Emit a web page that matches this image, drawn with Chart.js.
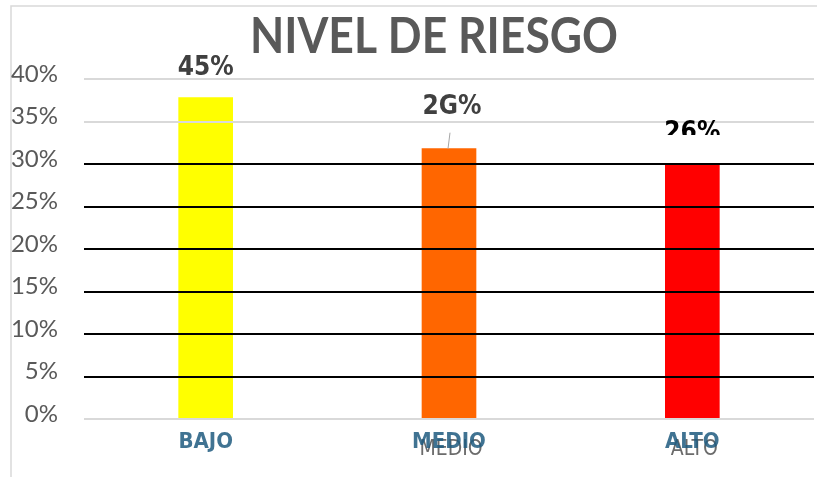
<!DOCTYPE html>
<html>
<head>
<meta charset="utf-8">
<script src="https://cdn.jsdelivr.net/npm/chart.js@4"></script>
<style>
  html, body { margin: 0; padding: 0; background: #fff; }
  #wrap { width: 817px; height: 477px; }
</style>
</head>
<body>
<div id="wrap"><canvas id="chart"></canvas></div>
<script>
// data
const categories = ['BAJO', 'MEDIO', 'ALTO'];
const barValues = [37.8, 31.8, 30];
const barLabels = ['45%', '2G%', '26%'];
const barColors = ['#FFFF00', '#FF6600', '#FF0000'];
const yTicks = [0, 5, 10, 15, 20, 25, 30, 35, 40];
const ghostLabels = ['', 'MEDIO', 'ALTO'];   // grey duplicates under the axis labels

const BOLD_FONT = '"DejaVu Sans Condensed", "DejaVu Sans", sans-serif';

// frame + title + ghost labels, drawn behind everything else
const backdrop = {
  id: 'backdrop',
  beforeDraw(chart) {
    const ctx = chart.ctx;
    ctx.save();
    ctx.strokeStyle = '#d9d9d9';
    ctx.lineWidth = 1.5;
    ctx.beginPath();
    ctx.moveTo(11, 477);
    ctx.lineTo(11, 6);
    ctx.lineTo(817, 6);
    ctx.stroke();

    ctx.fillStyle = '#595959';
    ctx.font = 'bold 50px Lato';
    ctx.textAlign = 'center';
    ctx.textBaseline = 'alphabetic';
    ctx.fillText('NIVEL DE RIESGO', 434, 53, 368);

    const x = chart.scales.x;
    ctx.fillStyle = '#6b6b6b';
    ctx.font = '21px ' + BOLD_FONT;
    ghostLabels.forEach((t, i) => {
      if (t) ctx.fillText(t, x.getPixelForValue(i) + 2, 455);
    });
    ctx.restore();
  }
};

// value labels above bars (one clipped, one with a leader line)
const valueLabels = {
  id: 'valueLabels',
  afterDraw(chart) {
    const ctx = chart.ctx;
    const meta = chart.getDatasetMeta(0);
    ctx.save();
    ctx.textAlign = 'center';
    ctx.textBaseline = 'middle';
    ctx.font = 'bold 26px ' + BOLD_FONT;
    meta.data.forEach((bar, i) => {
      if (i === 0) {
        ctx.fillStyle = '#404040';
        ctx.fillText(barLabels[i], bar.x, bar.y - 29);
      } else if (i === 1) {
        ctx.fillStyle = '#404040';
        ctx.fillText(barLabels[i], bar.x + 3, bar.y - 41);
        ctx.strokeStyle = '#a6a6a6';
        ctx.lineWidth = 1;
        ctx.beginPath();
        ctx.moveTo(bar.x + 1, bar.y - 16);
        ctx.lineTo(bar.x - 1, bar.y);
        ctx.stroke();
      } else {
        ctx.save();
        ctx.beginPath();
        ctx.rect(bar.x - 60, bar.y - 60, 120, 31);
        ctx.clip();
        ctx.fillStyle = '#000000';
        ctx.fillText(barLabels[i], bar.x, bar.y - 31);
        ctx.restore();
      }
    });
    ctx.restore();
  }
};

function drawChart() {
  new Chart(document.getElementById('chart'), {
    type: 'bar',
    data: {
      labels: categories,
      datasets: [{
        data: barValues,
        backgroundColor: barColors,
        barThickness: 54,
        base: -0.3
      }]
    },
    options: {
      responsive: true,
      maintainAspectRatio: false,
      animation: false,
      layout: { padding: { top: 79, right: 3, left: 0, bottom: 0 } },
      plugins: {
        legend: { display: false },
        tooltip: { enabled: false }
      },
      scales: {
        x: {
          grid: { display: false },
          border: { display: false },
          ticks: {
            color: 'rgba(31, 90, 127, 0.85)',
            font: { family: BOLD_FONT, size: 22, weight: 'bold' },
            padding: 2
          },
          afterFit(s) { s.height = 58; }
        },
        y: {
          min: 0,
          max: 40,
          afterBuildTicks(s) { s.ticks = yTicks.map(v => ({ value: v })); },
          border: { display: false },
          grid: {
            z: 1,
            drawTicks: false,
            lineWidth: 2,
            color: ctx => {
              const v = ctx.tick ? ctx.tick.value : 0;
              return (v === 0 || v >= 35) ? '#d9d9d9' : '#000000';
            }
          },
          ticks: {
            color: '#595959',
            font: { family: 'Lato', size: 24 },
            padding: 26,
            labelOffset: -5,
            callback: v => v + '%'
          },
          afterFit(s) { s.width = 84; }
        }
      }
    },
    plugins: [backdrop, valueLabels]
  });
}

Promise.all([
  document.fonts.load('bold 50px Lato'),
  document.fonts.load('24px Lato')
]).then(drawChart, drawChart);
</script>
</body>
</html>
